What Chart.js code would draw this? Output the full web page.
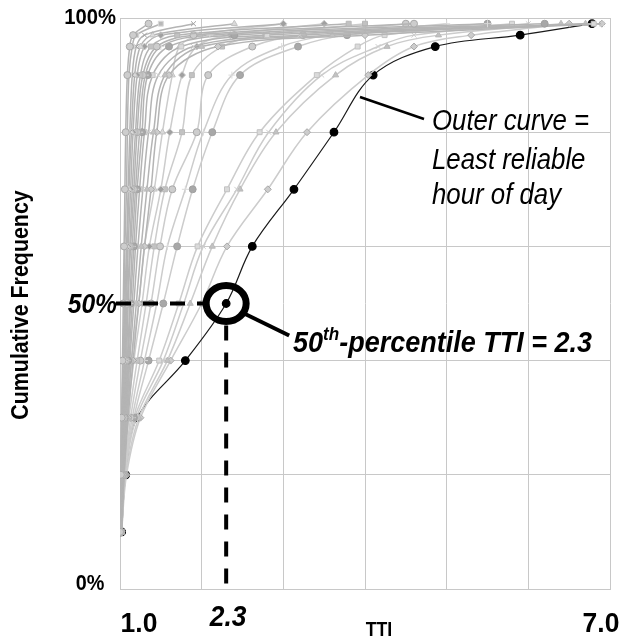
<!DOCTYPE html>
<html>
<head>
<meta charset="utf-8">
<script src="https://cdn.jsdelivr.net/npm/chart.js@4/dist/chart.umd.min.js"></script>
<style>
  html, body { margin: 0; padding: 0; background: #fff; }
  #wrap { width: 626px; height: 641px; }
</style>
</head>
<body>
<div id="wrap"><canvas id="myChart" width="626" height="641"></canvas></div>
<script>
// cumulative frequency levels (%) shared by every hour's curve
const levels = [10, 20, 30, 40, 50, 60, 70, 80, 90, 95, 97, 99];

// least reliable hour of the day (TTI at each level)
const outerHour = [1.02, 1.07, 1.21, 1.80, 2.30, 2.62, 3.13, 3.62, 4.10, 4.86, 5.90, 6.78];
const medianTTI = 2.3;

// the other hours, tight ones first
const tightHours = [
  [1.00, 1.01, 1.02, 1.03, 1.04, 1.05, 1.06, 1.07, 1.09, 1.12, 1.16, 1.35],
  [1.00, 1.01, 1.02, 1.04, 1.05, 1.06, 1.08, 1.09, 1.11, 1.15, 1.20, 1.50],
  [1.00, 1.02, 1.03, 1.05, 1.06, 1.08, 1.10, 1.12, 1.15, 1.20, 1.30, 1.90],
  [1.01, 1.02, 1.04, 1.06, 1.07, 1.09, 1.11, 1.14, 1.18, 1.25, 1.40, 2.40],
  [1.01, 1.02, 1.04, 1.06, 1.08, 1.10, 1.13, 1.16, 1.21, 1.30, 1.50, 3.00],
  [1.01, 1.03, 1.05, 1.07, 1.09, 1.12, 1.15, 1.19, 1.25, 1.38, 1.70, 3.80],
  [1.01, 1.03, 1.05, 1.08, 1.10, 1.13, 1.17, 1.21, 1.28, 1.45, 1.90, 4.60],
  [1.01, 1.03, 1.06, 1.09, 1.12, 1.15, 1.19, 1.24, 1.31, 1.50, 2.10, 5.50],
  [1.01, 1.03, 1.06, 1.10, 1.13, 1.17, 1.21, 1.27, 1.34, 1.60, 2.40, 6.20],
  [1.01, 1.04, 1.07, 1.11, 1.15, 1.19, 1.24, 1.30, 1.40, 1.75, 2.80, 6.80],
  [1.02, 1.04, 1.08, 1.12, 1.17, 1.22, 1.28, 1.35, 1.47, 1.90, 3.20, 6.90],
  [1.02, 1.05, 1.09, 1.14, 1.20, 1.26, 1.33, 1.41, 1.55, 2.00, 3.60, 6.70],
  [1.02, 1.05, 1.10, 1.16, 1.23, 1.30, 1.38, 1.45, 1.60, 2.20, 4.00, 6.90]
];
const spreadHours = [
  [1.01, 1.03, 1.08, 1.14, 1.23, 1.30, 1.42, 1.52, 1.64, 1.73, 1.98, 3.00],
  [1.01, 1.04, 1.09, 1.17, 1.27, 1.36, 1.50, 1.61, 1.76, 1.94, 2.35, 3.50],
  [1.01, 1.04, 1.11, 1.21, 1.32, 1.42, 1.55, 1.76, 1.88, 2.25, 2.78, 4.00],
  [1.01, 1.05, 1.13, 1.25, 1.38, 1.49, 1.64, 1.94, 2.08, 2.62, 3.24, 4.50],
  [1.01, 1.05, 1.15, 1.30, 1.45, 1.58, 1.80, 2.02, 2.37, 2.98, 3.57, 5.00],
  [1.01, 1.06, 1.17, 1.35, 1.53, 1.70, 1.89, 2.13, 2.47, 3.18, 3.78, 5.50],
  [1.02, 1.06, 1.18, 1.48, 1.72, 1.95, 2.31, 2.71, 3.41, 3.91, 4.24, 5.80],
  [1.02, 1.06, 1.20, 1.53, 1.78, 2.02, 2.43, 2.82, 3.47, 4.16, 4.60, 6.00],
  [1.02, 1.07, 1.23, 1.58, 1.86, 2.13, 2.47, 2.91, 3.64, 4.27, 4.90, 6.40],
  [1.02, 1.08, 1.25, 1.62, 2.00, 2.31, 2.81, 3.29, 4.04, 4.60, 5.30, 6.50]
];

const FONT = '"Liberation Sans", Arial, sans-serif';
const shapes = ['circle', 'rect', 'crossRot', 'triangle', 'rectRot', 'rect', 'circle', 'cross'];
const markerGreys = ['#cdcdcd', '#b8b8b8', '#a8a8a8', '#dadada', '#a0a0a0', '#c2c2c2'];

function toPoints(ttis) {
  return ttis.map((t, i) => ({ x: t, y: levels[i] }));
}

function greyCurve(ttis, i, lineColor) {
  return {
    data: toPoints(ttis),
    showLine: true,
    borderColor: lineColor,
    borderWidth: 1.5,
    tension: 0.35,
    pointStyle: shapes[i % shapes.length],
    pointRadius: 3.5,
    pointBorderWidth: 1,
    pointBackgroundColor: markerGreys[i % markerGreys.length],
    pointBorderColor: markerGreys[(i + 2) % markerGreys.length]
  };
}

const datasets = [];
tightHours.forEach((h, i) => datasets.push(greyCurve(h, i, '#b4b4b4')));
spreadHours.forEach((h, i) => datasets.push(greyCurve(h, i + 3, '#cccccc')));
datasets.push({
  data: toPoints(outerHour),
  showLine: true,
  borderColor: '#1a1a1a',
  borderWidth: 1.2,
  tension: 0.35,
  pointStyle: 'circle',
  pointRadius: 3.8,
  pointBackgroundColor: '#000',
  pointBorderColor: '#000'
});

// text squeezed horizontally to get a narrow face
function txt(ctx, s, x, y, font, align, sx) {
  sx = sx || 0.84;
  ctx.save();
  ctx.font = font;
  ctx.textAlign = align || 'center';
  ctx.textBaseline = 'middle';
  ctx.translate(x, y);
  ctx.scale(sx, 1);
  ctx.fillText(s, 0, 0);
  ctx.restore();
}

const notes = {
  id: 'notes',
  afterDatasetsDraw(chart) {
    const ctx = chart.ctx;
    const xs = chart.scales.x, ys = chart.scales.y;
    const px = xs.getPixelForValue(medianTTI);
    const py = ys.getPixelForValue(50);
    ctx.save();
    ctx.strokeStyle = '#000';
    ctx.fillStyle = '#000';

    // dashed guides to the median point
    ctx.lineWidth = 4;
    ctx.setLineDash([15, 12]);
    ctx.beginPath();
    ctx.moveTo(xs.left - 4, py);
    ctx.lineTo(px - 22, py);
    ctx.stroke();
    ctx.beginPath();
    ctx.moveTo(px, py + 22);
    ctx.lineTo(px, ys.bottom);
    ctx.stroke();
    ctx.setLineDash([]);

    // ring around the median point
    ctx.lineWidth = 7;
    ctx.beginPath();
    ctx.ellipse(px, py, 20, 18, 0, 0, Math.PI * 2);
    ctx.stroke();

    // leader lines
    ctx.lineWidth = 4;
    ctx.beginPath();
    ctx.moveTo(px + 18, py + 10);
    ctx.lineTo(px + 63, py + 32);
    ctx.stroke();
    ctx.lineWidth = 2.5;
    ctx.beginPath();
    ctx.moveTo(360, 97);
    ctx.lineTo(424, 119);
    ctx.stroke();

    // 50th-percentile callout, squeezed like the rest
    ctx.save();
    ctx.translate(293, 352);
    ctx.scale(0.9, 1);
    ctx.textAlign = 'left';
    ctx.textBaseline = 'alphabetic';
    ctx.font = 'italic bold 30px ' + FONT;
    let tx = 0;
    ctx.fillText('50', tx, 0);
    tx += ctx.measureText('50').width;
    ctx.font = 'italic bold 19px ' + FONT;
    ctx.fillText('th', tx, -12);
    tx += ctx.measureText('th').width;
    ctx.font = 'italic bold 30px ' + FONT;
    ctx.fillText('-percentile TTI = 2.3', tx, 0);
    ctx.restore();

    txt(ctx, 'Outer curve =', 432, 122, 'italic 30px ' + FONT, 'left', 0.86);
    txt(ctx, 'Least reliable', 432, 161, 'italic 30px ' + FONT, 'left', 0.86);
    txt(ctx, 'hour of day', 432, 196, 'italic 30px ' + FONT, 'left', 0.86);

    // axis labels
    txt(ctx, '100%', xs.left - 4, ys.top, 'bold 22px ' + FONT, 'right', 0.92);
    txt(ctx, '0%', 90, ys.bottom - 5, 'bold 22px ' + FONT, 'center', 0.9);
    txt(ctx, '50%', xs.left - 3, py + 2, 'italic bold 28px ' + FONT, 'right', 0.88);
    txt(ctx, '1.0', xs.left + 19, 625, 'bold 27px ' + FONT, 'center', 0.98);
    txt(ctx, '7.0', xs.right - 9, 625, 'bold 27px ' + FONT, 'center', 0.98);
    txt(ctx, '2.3', px + 2, 618, 'italic bold 30px ' + FONT, 'center', 0.88);
    txt(ctx, 'TTI', 379, 630, 'bold 21px ' + FONT, 'center', 0.84);

    ctx.translate(22, 305);
    ctx.rotate(-Math.PI / 2);
    txt(ctx, 'Cumulative Frequency', 0, 0, 'bold 23px ' + FONT, 'center', 0.93);
    ctx.restore();
  }
};

new Chart(document.getElementById('myChart'), {
  type: 'scatter',
  data: { datasets: datasets },
  options: {
    responsive: false,
    animation: false,
    layout: { padding: { left: 120, top: 18, right: 16, bottom: 52 } },
    plugins: { legend: { display: false }, tooltip: { enabled: false } },
    scales: {
      x: {
        type: 'linear', min: 1, max: 7,
        ticks: { display: false, stepSize: 1 },
        grid: { color: '#c8c8c8', drawTicks: false },
        border: { color: '#c8c8c8' }
      },
      y: {
        min: 0, max: 100,
        ticks: { display: false, stepSize: 20 },
        grid: { color: '#c8c8c8', drawTicks: false },
        border: { color: '#c8c8c8' }
      }
    }
  },
  plugins: [notes]
});
</script>
</body>
</html>
